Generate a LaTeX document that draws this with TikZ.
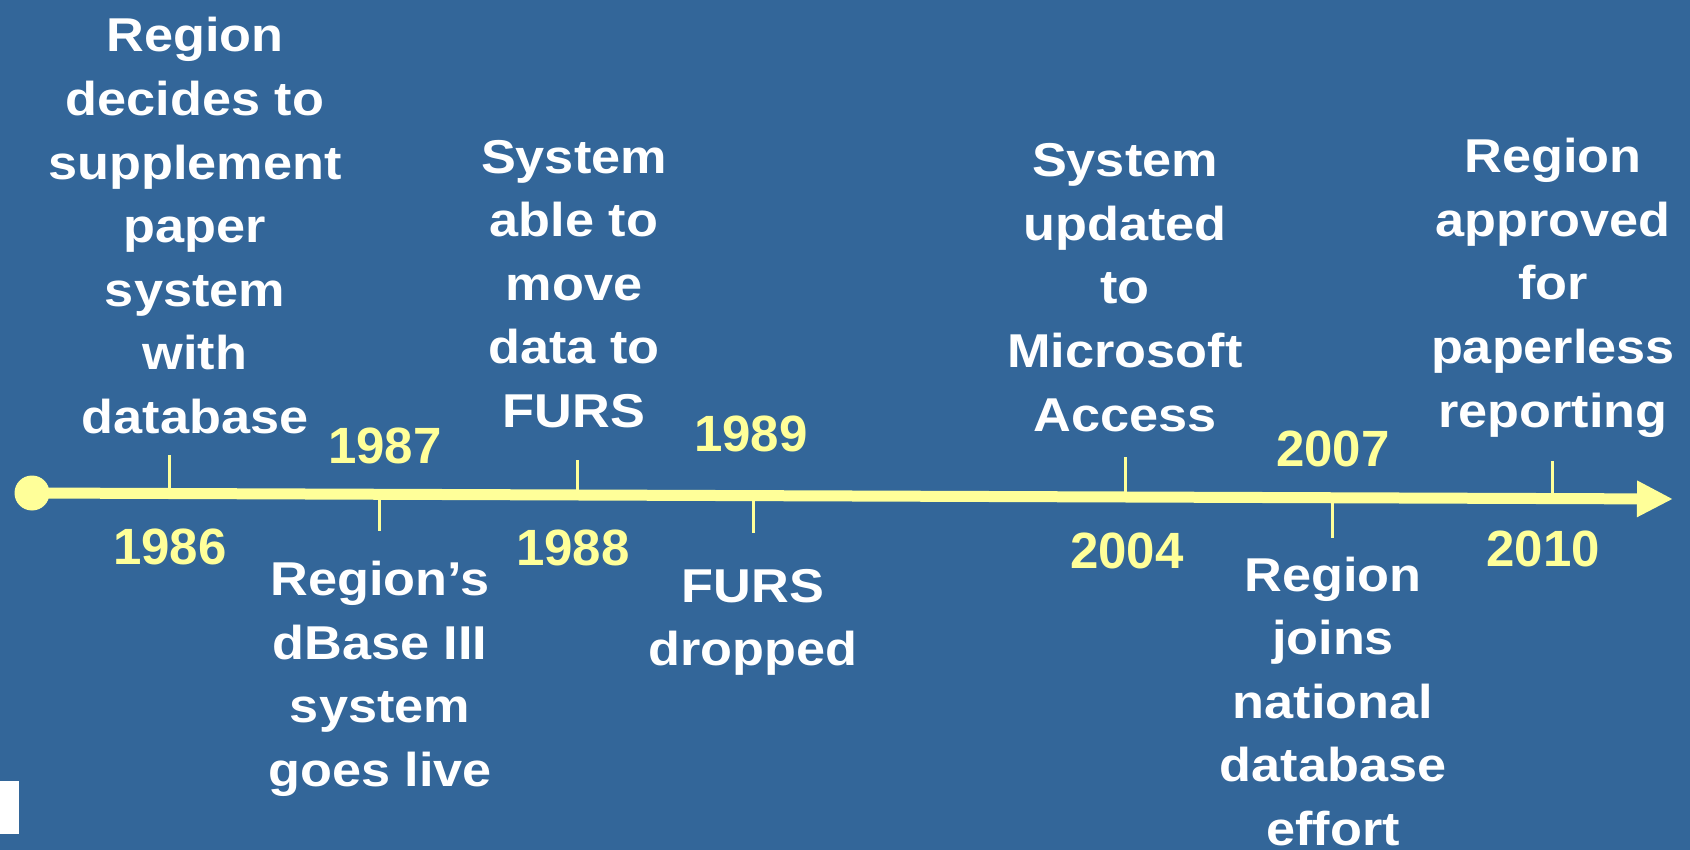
\documentclass[tikz,border=0pt]{standalone}
\usepackage{fontspec}
\setmainfont{Liberation Sans}
\newfontfamily\lblfont{Liberation Sans}[FakeStretch=1.1]
\usetikzlibrary{arrows.meta}
\definecolor{bg}{HTML}{336699}
\definecolor{ylw}{HTML}{FFFF99}
\begin{document}
\begin{tikzpicture}[x=1pt,y=-1pt,
  lbl/.style={text=white, font=\lblfont\bfseries\fontsize{47.5}{63.6}\selectfont, align=center, anchor=base, inner sep=0pt},
  yr/.style={text=ylw, font=\bfseries\fontsize{51}{60}\selectfont, anchor=base, inner sep=0pt},
  tickline/.style={draw=ylw, line width=3pt},
  axisline/.style={draw=ylw, line width=11pt, -{Triangle[length=36pt,width=34pt]}}]
\fill[bg] (0,0) rectangle (1690,850);
\useasboundingbox (0,0) rectangle (1690,850);
% white mark at bottom left
\fill[white] (0,781) rectangle (19,834);
% axis
\coordinate (start) at (32,493);
\coordinate (tip) at (1673,499);
\draw[axisline] (start) -- (tip);
\node[circle, fill=ylw, minimum size=35pt, inner sep=0pt] (dot) at (start) {};
% tick points on axis and their free ends
\coordinate (a86) at (169,493.5); \coordinate (e86) at (169,455);
\coordinate (a87) at (379,494.3); \coordinate (e87) at (379,531);
\coordinate (a88) at (577,495);   \coordinate (e88) at (577,460);
\coordinate (a89) at (753,495.6); \coordinate (e89) at (753,533);
\coordinate (a04) at (1125,497);  \coordinate (e04) at (1125,457);
\coordinate (a07) at (1332,497.8);\coordinate (e07) at (1332,538);
\coordinate (a10) at (1552,498.6);\coordinate (e10) at (1552,461);
\foreach \t in {86,87,88,89,04,07,10} {\draw[tickline] (a\t) -- (e\t);}
% years
\node[yr] (y86) at (170,564) {1986};
\node[yr] (y87) at (385,463.3) {1987};
\node[yr] (y88) at (573,565.3) {1988};
\node[yr] (y89) at (751,451.7) {1989};
\node[yr] (y04) at (1127,568) {2004};
\node[yr] (y07) at (1333,466.7) {2007};
\node[yr] (y10) at (1543,566) {2010};
% labels (anchor = baseline of last line)
\node[lbl] (l86) at (195,433.5) {Region\\decides to\\supplement\\paper\\system\\with\\database};
\node[lbl] (l87) at (380,786.5) {Region’s\\dBase III\\system\\goes live};
\node[lbl] (l88) at (574,427.5) {System\\able to\\move\\data to\\FURS};
\node[lbl] (l89) at (753,665.6) {FURS\\dropped};
\node[lbl] (l04) at (1125,431) {System\\updated\\to\\Microsoft\\Access};
\node[lbl] (l07) at (1333,845.5) {Region\\joins\\national\\database\\effort};
\node[lbl] (l10) at (1553,427) {Region\\approved\\for\\paperless\\reporting};
\end{tikzpicture}
\end{document}
